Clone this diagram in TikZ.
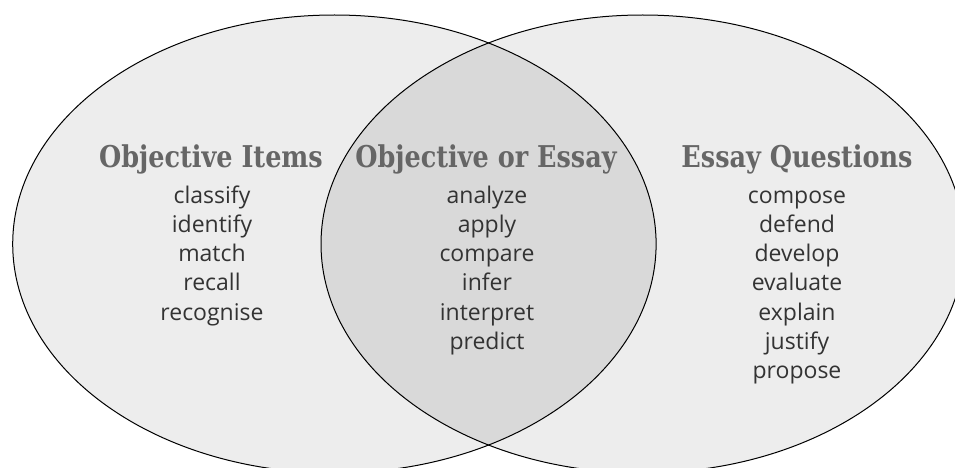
\documentclass[tikz,border=0pt]{standalone}
\usepackage{fontspec}
\setsansfont{Open Sans}
\newfontfamily\hdrfont[FakeStretch=0.85]{DejaVu Serif}
\definecolor{outerfill}{HTML}{EDEDED}
\definecolor{innerfill}{HTML}{D9D9D9}
\definecolor{hdrgray}{HTML}{666666}
\definecolor{wordgray}{HTML}{333333}
\tikzset{
  hdr/.style={anchor=base, text=hdrgray, font=\hdrfont\bfseries\fontsize{30}{33}\selectfont, inner sep=0pt},
  word/.style={anchor=base, text=wordgray, font=\sffamily\fontsize{23}{27}\selectfont, inner sep=0pt},
  ring/.style={draw=black, line width=1pt}
}
\begin{document}
\begin{tikzpicture}[x=1pt,y=-1pt]
\useasboundingbox (0,0) rectangle (955,468);
\begin{scope}
\clip (0,0) rectangle (955,468);
\fill[outerfill] (334.4,244) ellipse [x radius=321.7, y radius=229];
\fill[outerfill] (642.7,244) ellipse [x radius=321.7, y radius=229];
\begin{scope}
\clip (334.4,244) ellipse [x radius=321.7, y radius=229];
\fill[innerfill] (642.7,244) ellipse [x radius=321.7, y radius=229];
\end{scope}
\draw[ring] (334.4,244) ellipse [x radius=321.7, y radius=229];
\draw[ring] (642.7,244) ellipse [x radius=321.7, y radius=229];
\end{scope}
\node[hdr] (h1) at (211,167) {Objective Items};
\node[hdr] (h2) at (486,167) {Objective or Essay};
\node[hdr] (h3) at (797,167) {Essay Questions};
\foreach \w [count=\i] in {classify,identify,match,recall,recognise}
  \node[word] (a\i) at (212,{203+29.3*(\i-1)}) {\w};
\foreach \w [count=\i] in {analyze,apply,compare,infer,interpret,predict}
  \node[word] (b\i) at (487,{203+29.3*(\i-1)}) {\w};
\foreach \w [count=\i] in {compose,defend,develop,evaluate,explain,justify,propose}
  \node[word] (c\i) at (797,{203+29.3*(\i-1)}) {\w};
\end{tikzpicture}
\end{document}
